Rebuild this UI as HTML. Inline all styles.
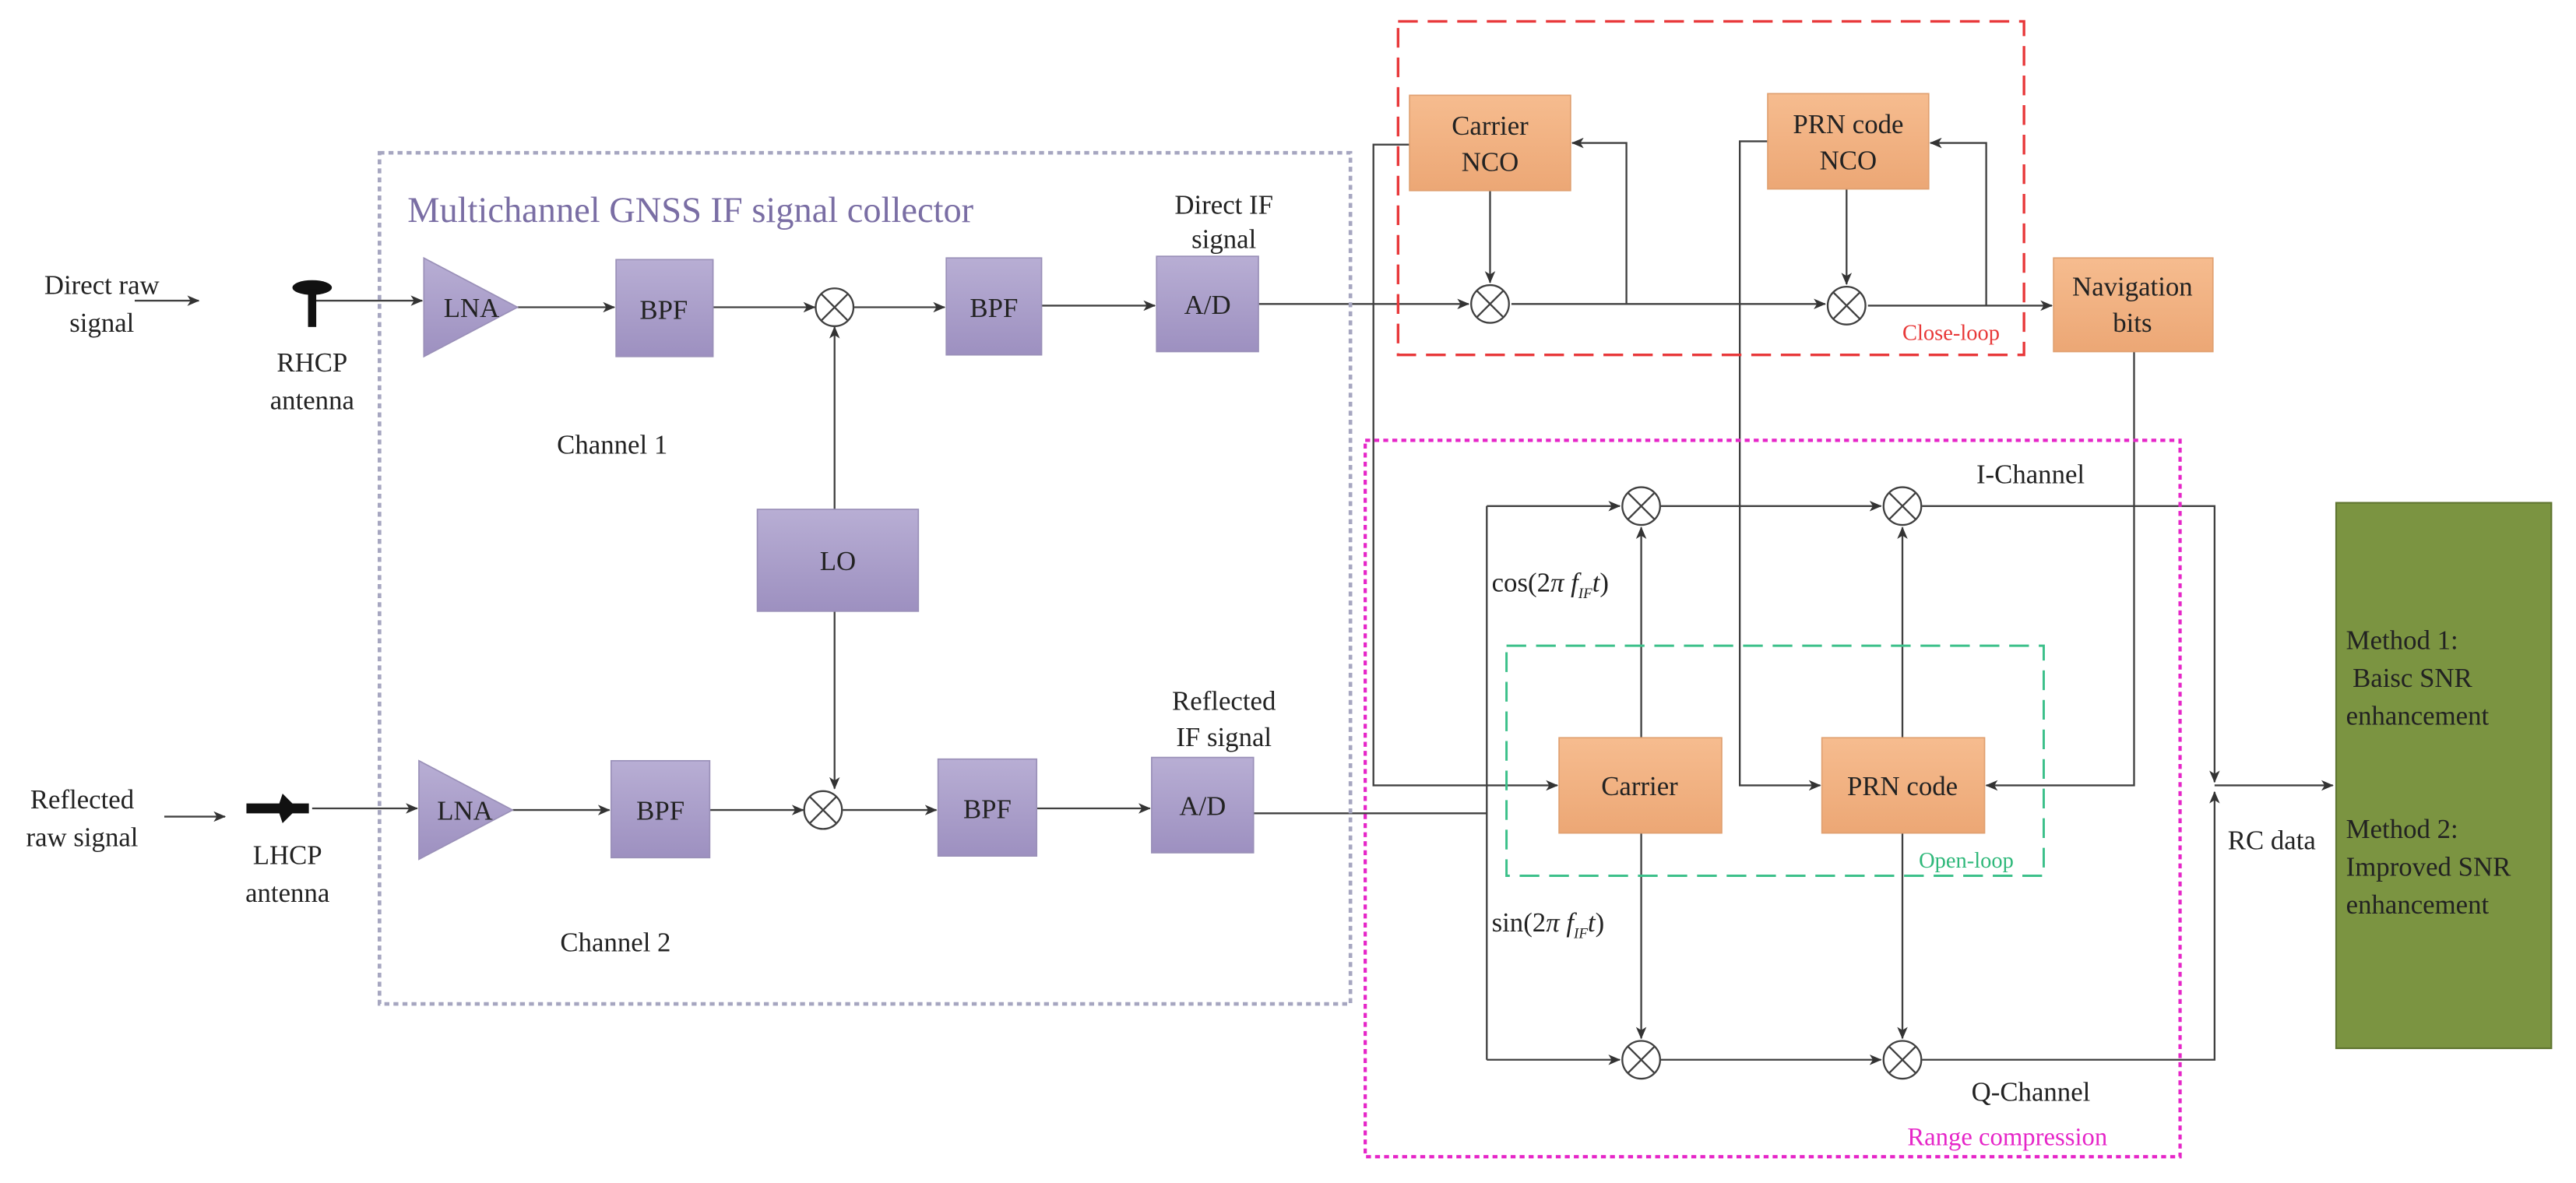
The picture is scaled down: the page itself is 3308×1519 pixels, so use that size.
<!DOCTYPE html>
<html><head><meta charset="utf-8"><style>
html,body{margin:0;padding:0;background:#fff;}
svg{display:block;}
text{font-family:"Liberation Serif",serif;fill:#222;}
</style></head><body>
<svg width="3308" height="1519" viewBox="0 0 1568 720" preserveAspectRatio="none" xmlns="http://www.w3.org/2000/svg">
<defs>
<marker id="a" markerWidth="8" markerHeight="8" refX="7" refY="4" orient="auto" markerUnits="userSpaceOnUse"><path d="M0,0.8 L7.5,4 L0,7.2 L2,4Z" fill="#333"/></marker>
<linearGradient id="pu" x1="0" y1="0" x2="0" y2="1"><stop offset="0" stop-color="#b8aed4"/><stop offset="1" stop-color="#9d90c0"/></linearGradient>
<linearGradient id="or" x1="0" y1="0" x2="0" y2="1"><stop offset="0" stop-color="#f6bc8f"/><stop offset="1" stop-color="#eca775"/></linearGradient>
</defs>
<g stroke="#404040" stroke-width="1.1" fill="none">
<line x1="82" y1="183" x2="121" y2="183" marker-end="url(#a)"/>
<line x1="192" y1="183" x2="257" y2="183" marker-end="url(#a)"/>
<line x1="315" y1="187" x2="374" y2="187" marker-end="url(#a)"/>
<line x1="434" y1="187" x2="496" y2="187" marker-end="url(#a)"/>
<line x1="520" y1="187" x2="575" y2="187" marker-end="url(#a)"/>
<line x1="634" y1="186" x2="703" y2="186" marker-end="url(#a)"/>
<line x1="766" y1="185" x2="894" y2="185" marker-end="url(#a)"/>
<line x1="920" y1="185" x2="1111" y2="185" marker-end="url(#a)"/>
<line x1="1137" y1="186" x2="1249" y2="186" marker-end="url(#a)"/>
<line x1="508" y1="310" x2="508" y2="199" marker-end="url(#a)"/>
<line x1="508" y1="372" x2="508" y2="480" marker-end="url(#a)"/>
<line x1="100" y1="497" x2="137" y2="497" marker-end="url(#a)"/>
<line x1="190" y1="492" x2="254" y2="492" marker-end="url(#a)"/>
<line x1="312" y1="493" x2="371" y2="493" marker-end="url(#a)"/>
<line x1="432" y1="493" x2="489" y2="493" marker-end="url(#a)"/>
<line x1="513" y1="493" x2="570" y2="493" marker-end="url(#a)"/>
<line x1="631" y1="492" x2="700" y2="492" marker-end="url(#a)"/>
<polyline points="763,495 905,495"/>
<line x1="907" y1="116" x2="907" y2="172" marker-end="url(#a)"/>
<polyline points="990,185 990,87 957,87" marker-end="url(#a)"/>
<line x1="1124" y1="115" x2="1124" y2="173" marker-end="url(#a)"/>
<polyline points="1209,186 1209,87 1175,87" marker-end="url(#a)"/>
<polyline points="858,88 836,88 836,478 948,478" marker-end="url(#a)"/>
<polyline points="1076,86 1059,86 1059,478 1108,478" marker-end="url(#a)"/>
<polyline points="1299,214 1299,478 1209,478" marker-end="url(#a)"/>
<polyline points="905,308 905,645"/>
<line x1="905" y1="308" x2="986" y2="308" marker-end="url(#a)"/>
<line x1="905" y1="645" x2="986" y2="645" marker-end="url(#a)"/>
<line x1="1011" y1="308" x2="1145" y2="308" marker-end="url(#a)"/>
<line x1="1011" y1="645" x2="1145" y2="645" marker-end="url(#a)"/>
<line x1="999" y1="449" x2="999" y2="321" marker-end="url(#a)"/>
<line x1="999" y1="507" x2="999" y2="632" marker-end="url(#a)"/>
<line x1="1158" y1="449" x2="1158" y2="321" marker-end="url(#a)"/>
<line x1="1158" y1="507" x2="1158" y2="632" marker-end="url(#a)"/>
<polyline points="1170,308 1348,308 1348,476" marker-end="url(#a)"/>
<polyline points="1170,645 1348,645 1348,482" marker-end="url(#a)"/>
<line x1="1348" y1="478" x2="1420" y2="478" marker-end="url(#a)"/>
</g>
<g stroke="#404040" stroke-width="1.1" fill="#fff">
<g transform="translate(508,187)"><circle r="11.5"/><path d="M-8,-8L8,8M-8,8L8,-8"/></g>
<g transform="translate(501,493)"><circle r="11.5"/><path d="M-8,-8L8,8M-8,8L8,-8"/></g>
<g transform="translate(907,185)"><circle r="11.5"/><path d="M-8,-8L8,8M-8,8L8,-8"/></g>
<g transform="translate(1124,186)"><circle r="11.5"/><path d="M-8,-8L8,8M-8,8L8,-8"/></g>
<g transform="translate(999,308)"><circle r="11.5"/><path d="M-8,-8L8,8M-8,8L8,-8"/></g>
<g transform="translate(1158,308)"><circle r="11.5"/><path d="M-8,-8L8,8M-8,8L8,-8"/></g>
<g transform="translate(999,645)"><circle r="11.5"/><path d="M-8,-8L8,8M-8,8L8,-8"/></g>
<g transform="translate(1158,645)"><circle r="11.5"/><path d="M-8,-8L8,8M-8,8L8,-8"/></g>
</g>
<rect x="231" y="93" width="591" height="518" fill="none" stroke="#a6a6c0" stroke-width="2.2" stroke-dasharray="3,2.5"/>
<rect x="851" y="13" width="381" height="203" fill="none" stroke="#e8383a" stroke-width="1.6" stroke-dasharray="12,6"/>
<rect x="831" y="268" width="496" height="436" fill="none" stroke="#e626c8" stroke-width="2" stroke-dasharray="3,2.5"/>
<rect x="917" y="393" width="327" height="140" fill="none" stroke="#3cc08a" stroke-width="1.4" stroke-dasharray="12,6"/>
<g fill="url(#pu)" stroke="#9a90b8" stroke-width="0.8">
<polygon points="258,157 315,187 258,217"/>
<rect x="375" y="158" width="59" height="59"/>
<rect x="576" y="157" width="58" height="59"/>
<rect x="704" y="156" width="62" height="58"/>
<rect x="461" y="310" width="98" height="62"/>
<polygon points="255,463 312,493 255,523"/>
<rect x="372" y="463" width="60" height="59"/>
<rect x="571" y="462" width="60" height="59"/>
<rect x="701" y="461" width="62" height="58"/>
</g>
<g fill="url(#or)" stroke="#e0a070" stroke-width="0.8">
<rect x="858" y="58" width="98" height="58"/>
<rect x="1076" y="57" width="98" height="58"/>
<rect x="1250" y="157" width="97" height="57"/>
<rect x="949" y="449" width="99" height="58"/>
<rect x="1109" y="449" width="99" height="58"/>
</g>
<rect x="1422" y="306" width="131" height="332" fill="#7b9441" stroke="#5f7530" stroke-width="1"/>
<ellipse cx="190" cy="175" rx="12" ry="4.5" fill="#111"/>
<rect x="187.5" y="176" width="5" height="23" fill="#111"/>
<path d="M150,489 L170,489 L172,483 L178,489 L188,489 L188,495 L178,495 L172,501 L170,495 L150,495 Z" fill="#111"/>
<g font-size="16.5" text-anchor="middle">
<text x="62" y="179">Direct raw</text><text x="62" y="202">signal</text>
<text x="190" y="226">RHCP</text><text x="190" y="249">antenna</text>
<text x="50" y="492">Reflected</text><text x="50" y="515">raw signal</text>
<text x="175" y="526">LHCP</text><text x="175" y="549">antenna</text>
<text x="287" y="193">LNA</text><text x="283" y="499">LNA</text>
<text x="404" y="194">BPF</text><text x="605" y="193">BPF</text><text x="735" y="191">A/D</text>
<text x="402" y="499">BPF</text><text x="601" y="498">BPF</text><text x="732" y="496">A/D</text>
<text x="510" y="347">LO</text>
<text x="745" y="130">Direct IF</text><text x="745" y="151">signal</text>
<text x="745" y="432">Reflected</text><text x="745" y="454">IF signal</text>
<text x="907" y="82">Carrier</text><text x="907" y="104">NCO</text>
<text x="1125" y="81">PRN code</text><text x="1125" y="103">NCO</text>
<text x="1298" y="180">Navigation</text><text x="1298" y="202">bits</text>
<text x="998" y="484">Carrier</text><text x="1158" y="484">PRN code</text>
</g>
<g font-size="16.5">
<text x="339" y="276">Channel 1</text>
<text x="341" y="579">Channel 2</text>
<text x="1203" y="294">I-Channel</text>
<text x="1200" y="670">Q-Channel</text>
<text x="1356" y="517">RC data</text>
<text x="908" y="360">cos(2<tspan font-style="italic">π f</tspan><tspan font-size="9" font-style="italic" dy="4">IF</tspan><tspan font-style="italic" dy="-4">t</tspan>)</text>
<text x="908" y="567">sin(2<tspan font-style="italic">π f</tspan><tspan font-size="9" font-style="italic" dy="4">IF</tspan><tspan font-style="italic" dy="-4">t</tspan>)</text>
<text x="1428" y="395">Method 1:</text>
<text x="1432" y="418">Baisc SNR</text>
<text x="1428" y="441">enhancement</text>
<text x="1428" y="510">Method 2:</text>
<text x="1428" y="533">Improved SNR</text>
<text x="1428" y="556">enhancement</text>
</g>
<text x="248" y="135" font-size="22" style="fill:#7a6ea4">Multichannel GNSS IF signal collector</text>
<text x="1158" y="207" font-size="13.5" style="fill:#e83838">Close-loop</text>
<text x="1168" y="528" font-size="13.5" style="fill:#2fb87a">Open-loop</text>
<text x="1161" y="697" font-size="15.5" style="fill:#e626c8">Range compression</text>
</svg>
</body></html>
